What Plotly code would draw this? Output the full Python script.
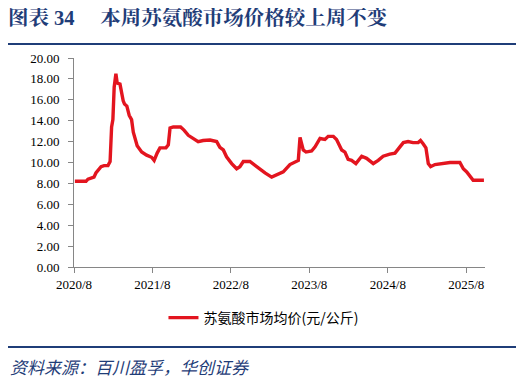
import plotly.graph_objects as go

# ---- data ----
dates = [
    "2020-08-05", "2020-08-29", "2020-09-26", "2020-10-05", "2020-10-19", "2020-11-02",
    "2020-11-11", "2020-11-25", "2020-12-05", "2020-12-19", "2021-01-06", "2021-01-16",
    "2021-01-23", "2021-01-29", "2021-02-04", "2021-02-12", "2021-02-18", "2021-03-03",
    "2021-03-11", "2021-03-18", "2021-03-24", "2021-04-04", "2021-04-15", "2021-04-26",
    "2021-05-04", "2021-05-12", "2021-05-22", "2021-06-12", "2021-07-05", "2021-07-28",
    "2021-08-09", "2021-08-23", "2021-09-05", "2021-10-03", "2021-10-14", "2021-10-22",
    "2021-11-06", "2021-12-10", "2021-12-26", "2022-01-15", "2022-02-07", "2022-03-02",
    "2022-03-25", "2022-04-26", "2022-05-27", "2022-06-11", "2022-06-27", "2022-07-12",
    "2022-08-05", "2022-08-28", "2022-09-12", "2022-09-28", "2022-10-29", "2022-11-29",
    "2023-01-07", "2023-02-07", "2023-03-02", "2023-04-02", "2023-05-03", "2023-06-11",
    "2023-06-19", "2023-07-04", "2023-07-17", "2023-08-12", "2023-08-28", "2023-09-20",
    "2023-10-13", "2023-10-28", "2023-11-21", "2023-12-06", "2023-12-30", "2024-01-14",
    "2024-01-29", "2024-02-14", "2024-03-05", "2024-04-01", "2024-04-24", "2024-05-25",
    "2024-06-17", "2024-07-10", "2024-08-10", "2024-09-03", "2024-09-26", "2024-10-12",
    "2024-11-03", "2024-11-26", "2024-12-20", "2024-12-31", "2025-01-12", "2025-01-25",
    "2025-02-05", "2025-02-16", "2025-03-08", "2025-05-01", "2025-05-17", "2025-07-02",
    "2025-07-18", "2025-08-03", "2025-08-26", "2025-09-02", "2025-10-22",
]
prices = [
    8.2, 8.2, 8.2, 8.4, 8.5, 8.6,
    9.0, 9.3, 9.6, 9.7, 9.7, 10.1,
    13.4, 14.1, 17.2, 18.5, 17.6, 17.5,
    16.6, 15.9, 15.6, 15.4, 14.5, 14.1,
    12.9, 12.2, 11.6, 11.0, 10.7, 10.5,
    10.2, 10.9, 11.4, 11.4, 11.7, 13.3,
    13.4, 13.4, 13.1, 12.6, 12.3, 12.0,
    12.1, 12.15, 12.0, 11.45, 11.2, 10.55,
    9.9, 9.4, 9.6, 10.1, 10.1, 9.6,
    9.0, 8.6, 8.8, 9.1, 9.8, 10.2,
    12.4, 11.2, 11.0, 11.1, 11.5, 12.3,
    12.2, 12.5, 12.5, 12.2, 11.2, 11.0,
    10.3, 10.2, 9.9, 10.6, 10.4, 9.9,
    10.2, 10.6, 10.8, 10.9, 11.5, 11.9,
    12.0, 11.9, 11.9, 12.1, 11.8, 11.4,
    9.9, 9.6, 9.8, 9.9, 10.0, 10.0,
    9.4, 9.1, 8.5, 8.3, 8.3,
]
series_name = "苏氨酸市场均价(元/公斤)"
x_tick_vals = ["2020-08-01", "2021-08-01", "2022-08-01", "2023-08-01", "2024-08-01", "2025-08-01"]
x_tick_text = ["2020/8", "2021/8", "2022/8", "2023/8", "2024/8", "2025/8"]
y_tick_vals = [0, 2, 4, 6, 8, 10, 12, 14, 16, 18, 20]
y_tick_text = ["0.00", "2.00", "4.00", "6.00", "8.00", "10.00", "12.00", "14.00", "16.00", "18.00", "20.00"]

title_text = "<b>图表 34\u3000\u2005本周苏氨酸市场价格较上周不变</b>"
source_text = "<i>资料来源：百川盈孚，华创证券</i>"

BLUE = "#1F3D78"
RED = "#E3151F"
AXIS = "#868686"
SERIF = "Liberation Serif, Noto Serif CJK SC, Noto Sans CJK SC, serif"

# page body adds an 8px offset, so the figure is 8px smaller than the window
W, H = 516, 374

fig = go.Figure()
fig.add_trace(go.Scatter(
    x=dates, y=prices, mode="lines", name=series_name,
    line=dict(color=RED, width=3.4), showlegend=True,
))

fig.update_layout(
    width=W, height=H,
    margin=dict(l=66, r=39, t=50, b=115, pad=0),
    paper_bgcolor="white", plot_bgcolor="white",
    title=dict(
        text=title_text, x=0, xanchor="left", xref="container",
        y=1 - 9.5 / H, yanchor="middle", yref="container",
        pad=dict(l=0, r=0, t=0, b=0),
        font=dict(family=SERIF, size=20.5, color=BLUE),
    ),
    legend=dict(
        orientation="h", x=0.461, xanchor="center", y=-0.244, yanchor="middle",
        font=dict(family="Noto Sans CJK SC", size=14, color="#000000"),
        bgcolor="rgba(0,0,0,0)",
    ),
    xaxis=dict(
        type="date", range=["2020-08-01", "2025-10-27"],
        tickmode="array", tickvals=x_tick_vals, ticktext=x_tick_text,
        showgrid=False, zeroline=False,
        showline=True, linecolor=AXIS, linewidth=1,
        ticks="outside", ticklen=5, tickcolor=AXIS,
        tickfont=dict(family=SERIF, size=13, color="#000000"),
    ),
    yaxis=dict(
        range=[0, 20], tickmode="array", tickvals=y_tick_vals, ticktext=y_tick_text,
        showgrid=False, zeroline=False,
        showline=True, linecolor=AXIS, linewidth=1,
        ticks="outside", ticklen=5, tickcolor=AXIS, ticklabelstandoff=6,
        tickfont=dict(family=SERIF, size=13, color="#000000"),
    ),
    hovermode=False,
)

# header and footer rules
fig.add_shape(type="line", xref="paper", yref="paper",
              x0=(5 - 74) / 411, x1=(517 - 74) / 411,
              y0=(267 - 44) / 209, y1=(267 - 44) / 209,
              line=dict(color=BLUE, width=2))
fig.add_shape(type="line", xref="paper", yref="paper",
              x0=(5 - 74) / 411, x1=(517 - 74) / 411,
              y0=-(347 - 267) / 209, y1=-(347 - 267) / 209,
              line=dict(color=BLUE, width=2))

fig.add_annotation(
    text=source_text, xref="paper", yref="paper",
    x=(8 - 74) / 411, xanchor="left", y=-(366 - 267) / 209, yanchor="middle",
    showarrow=False, font=dict(family="Noto Sans CJK SC", size=17, color=BLUE),
)

fig.write_html("out.html")
